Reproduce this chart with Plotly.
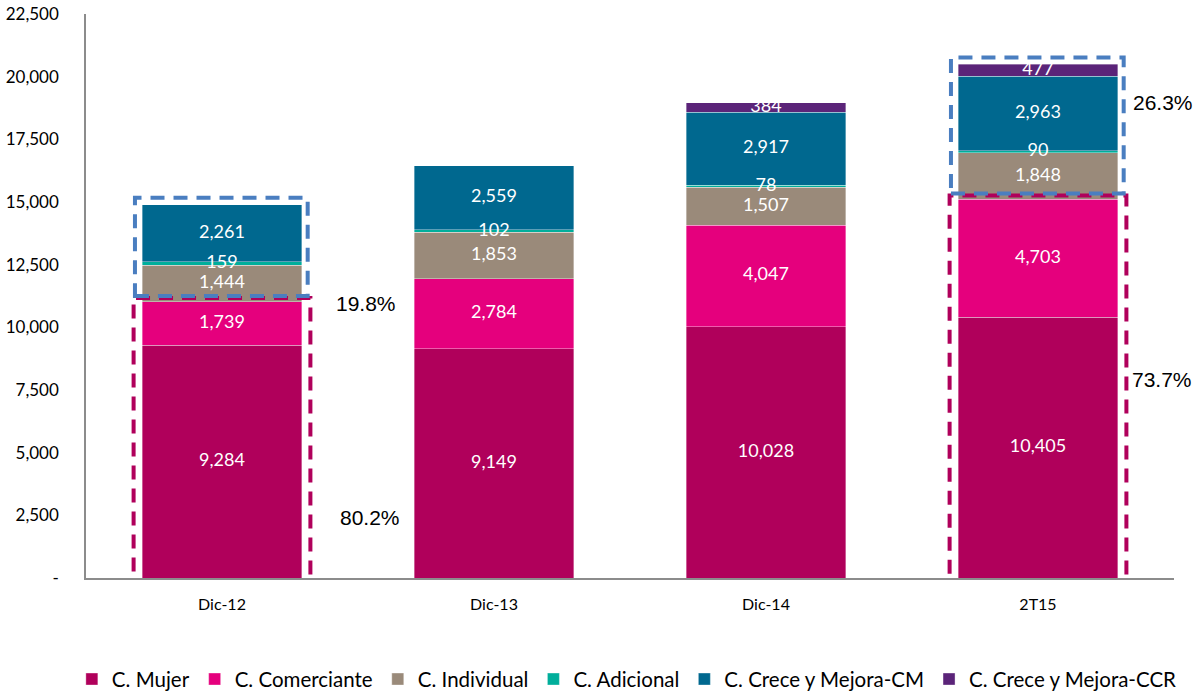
"""Stacked bar chart: portfolio by product, with dashed group boxes."""

import plotly.graph_objects as go

PERIODS = ["Dic-12", "Dic-13", "Dic-14", "2T15"]

SERIES_NAMES = [
    "C. Mujer",
    "C. Comerciante",
    "C. Individual",
    "C. Adicional",
    "C. Crece y Mejora-CM",
    "C. Crece y Mejora-CCR",
]
MUJER = [9284, 9149, 10028, 10405]
COMERCIANTE = [1739, 2784, 4047, 4703]
INDIVIDUAL = [1444, 1853, 1507, 1848]
ADICIONAL = [159, 102, 78, 90]
CRECE_CM = [2261, 2559, 2917, 2963]
CRECE_CCR = [None, None, 384, 477]

SERIES_COLORS = ["#B0005B", "#E5007D", "#9A8A7A", "#00AE9B", "#00688F", "#5B2479"]

TICK_VALUES = [0, 2500, 5000, 7500, 10000, 12500, 15000, 17500, 20000, 22500]
TICK_LABELS = ["-", "2,500", "5,000", "7,500", "10,000", "12,500",
               "15,000", "17,500", "20,000", "22,500"]

# boxed periods and the share labels written next to them
BOXED_PERIODS = [0, 3]
SHARE_TOP = ["19.8%", "26.3%"]
SHARE_BOTTOM = ["80.2%", "73.7%"]

PINK_BOX = "#B0005B"
BLUE_BOX = "#4A7EC0"
LABEL_FONT = "Lato"

series_values = [MUJER, COMERCIANTE, INDIVIDUAL, ADICIONAL, CRECE_CM, CRECE_CCR]
x_index = list(range(len(PERIODS)))

fig = go.Figure()
for name, values, color in zip(SERIES_NAMES, series_values, SERIES_COLORS):
    fig.add_trace(
        go.Bar(
            x=x_index,
            y=values,
            name=name,
            marker={"color": color, "line": {"color": "rgba(255,255,255,0.6)", "width": 0.6}},
            hoverinfo="y+name",
        )
    )

# value labels go on top of all bars so thin segments don't hide them
label_x, label_y, label_text = [], [], []
base = [0] * len(PERIODS)
for values in series_values:
    for i, v in enumerate(values):
        if v is None:
            continue
        label_x.append(i)
        label_y.append(base[i] + v / 2)
        label_text.append(f"{v:,}")
        base[i] += v
fig.add_trace(
    go.Scatter(
        x=label_x,
        y=label_y,
        text=label_text,
        mode="text",
        textfont={"color": "white", "size": 18, "family": LABEL_FONT},
        showlegend=False,
        hoverinfo="skip",
        cliponaxis=False,
    )
)

# dashed boxes around the lower (Mujer + Comerciante) and upper blocks
for idx in BOXED_PERIODS:
    split = MUJER[idx] + COMERCIANTE[idx]
    fig.add_shape(
        type="rect", xref="x", yref="y",
        x0=idx - 0.325, x1=idx + 0.325, y0=-150, y1=split + 150,
        line={"color": PINK_BOX, "width": 4, "dash": "14px,9px"},
        layer="above",
    )
    fig.add_shape(
        type="rect", xref="x", yref="y",
        x0=idx - 0.32, x1=idx + 0.315, y0=split + 230, y1=base[idx] + 280,
        line={"color": BLUE_BOX, "width": 4, "dash": "14px,9px"},
        layer="above",
    )

share_top_pos = [(0.53, 10950), (3.46, 18950)]
share_bottom_pos = [(0.545, 2430), (3.455, 7900)]
for k in range(len(BOXED_PERIODS)):
    fig.add_annotation(
        x=share_top_pos[k][0], y=share_top_pos[k][1],
        text=SHARE_TOP[k], showarrow=False,
        font={"size": 21, "color": "black", "family": "Liberation Sans"},
    )
    fig.add_annotation(
        x=share_bottom_pos[k][0], y=share_bottom_pos[k][1],
        text=SHARE_BOTTOM[k], showarrow=False,
        font={"size": 21, "color": "black", "family": "Liberation Sans"},
    )

fig.update_layout(
    barmode="stack",
    bargap=0.415,
    width=1195,
    height=694,
    paper_bgcolor="white",
    plot_bgcolor="white",
    margin={"l": 86, "r": 21, "t": 14, "b": 116, "autoexpand": False},
    font={"family": LABEL_FONT, "color": "black", "size": 15},
    showlegend=True,
    legend={
        "orientation": "h",
        "x": -0.013,
        "xanchor": "left",
        "y": -0.144,
        "yanchor": "top",
        "font": {"size": 20.5, "family": LABEL_FONT},
        "traceorder": "normal",
        "itemwidth": 30,
    },
)
fig.update_xaxes(
    tickvals=x_index,
    ticktext=PERIODS,
    range=[-0.5, len(PERIODS) - 0.5],
    showline=True,
    linecolor="#8c8c8c",
    linewidth=1.5,
    showgrid=False,
    ticks="",
    tickfont={"size": 16},
    ticklabelstandoff=11,
    automargin=False,
)
fig.update_yaxes(
    range=[0, 22500],
    tickvals=TICK_VALUES,
    ticktext=TICK_LABELS,
    showline=True,
    linecolor="#8c8c8c",
    linewidth=1.5,
    showgrid=False,
    zeroline=False,
    ticks="",
    tickfont={"size": 17},
    ticklabelstandoff=22,
    automargin=False,
)

# drop the browser's default body margin so the figure fills the window
fig.write_html(
    "out.html",
    config={"displayModeBar": False},
    post_script="document.body.style.margin = '0';",
)
